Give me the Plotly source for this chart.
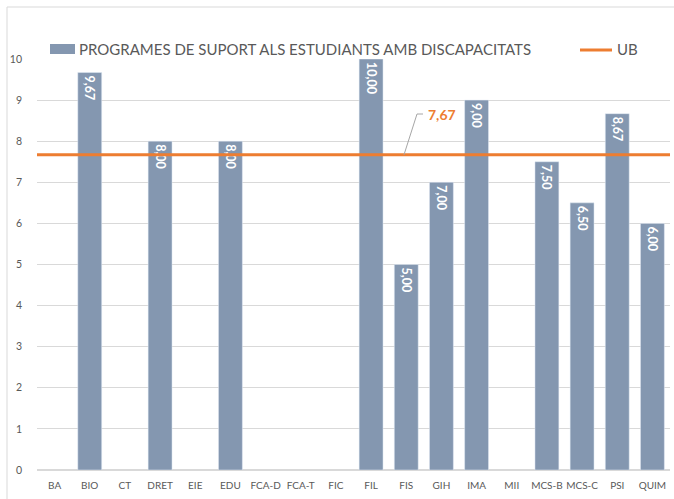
import plotly.graph_objects as go

categories = ["BA", "BIO", "CT", "DRET", "EIE", "EDU", "FCA-D", "FCA-T", "FIC",
              "FIL", "FIS", "GIH", "IMA", "MII", "MCS-B", "MCS-C", "PSI", "QUIM"]
values = [None, 9.67, None, 8.00, None, 8.00, None, None, None,
          10.00, 5.00, 7.00, 9.00, None, 7.50, 6.50, 8.67, 6.00]
ub_value = 7.67
series_name = "PROGRAMES DE SUPORT ALS ESTUDIANTS AMB DISCAPACITATS"
ub_name = "UB"
y_ticks = list(range(0, 11))

BAR = "#8497B0"
ORANGE = "#ED7D31"
GRAY = "#595959"
FONT = "Lato"

W, H = 674, 499
L, R, T, B = 37, 4, 59, 29
pw, ph = W - L - R, H - T - B

def px(x):
    return (x - L) / pw

def py(y):
    return (H - B - y) / ph

fig = go.Figure()
fig.add_trace(go.Bar(
    x=categories, y=values, marker_color=BAR, width=0.68,
    texttemplate="<b>%{y:.2f}</b>", textposition="inside", insidetextanchor="end",
    textangle=90, textfont=dict(color="white", size=12.5, family=FONT),
    showlegend=False, hoverinfo="x+y",
))
fig.add_trace(go.Scatter(
    x=[0, 1], y=[ub_value, ub_value], xaxis="x2", mode="lines",
    line=dict(color=ORANGE, width=3), showlegend=False,
))

shapes = [
    dict(type="rect", xref="paper", yref="paper", x0=px(7), x1=px(700),
         y0=py(7), y1=py(530), line=dict(color="#D9D9D9", width=1), layer="below"),
    dict(type="rect", xref="paper", yref="paper", x0=px(50), x1=px(75),
         y0=py(54), y1=py(44), fillcolor=BAR, line=dict(width=0)),
    dict(type="line", xref="paper", yref="paper", x0=px(580), x1=px(612),
         y0=py(50), y1=py(50), line=dict(color=ORANGE, width=3)),
    dict(type="path", xref="paper", yref="y",
         path=f"M {px(404)},{ub_value} L {px(417)},{(H-B-114)/ph*10} L {px(423)},{(H-B-114)/ph*10}",
         line=dict(color="#A6A6A6", width=1)),
]

annotations = [
    dict(xref="paper", yref="paper", x=px(77), y=py(49), xanchor="left", yanchor="middle",
         text=series_name, showarrow=False, font=dict(size=15, color=GRAY, family=FONT)),
    dict(xref="paper", yref="paper", x=px(615), y=py(49), xanchor="left", yanchor="middle",
         text=ub_name, showarrow=False, font=dict(size=15, color=GRAY, family=FONT)),
    dict(xref="paper", yref="paper", x=px(426), y=py(115), xanchor="left", yanchor="middle",
         text="<b>7,67</b>", showarrow=False, font=dict(size=14, color=ORANGE, family=FONT)),
]

fig.update_layout(
    width=W, height=H,
    margin=dict(l=L, r=R, t=T, b=B, autoexpand=False),
    paper_bgcolor="white", plot_bgcolor="white",
    separators=",.",
    bargap=0.32,
    showlegend=False,
    font=dict(family=FONT, color=GRAY, size=10),
    xaxis=dict(type="category", categoryarray=categories, showgrid=False,
               showline=False, ticks="", tickangle=0, automargin=False,
               tickfont=dict(size=10, color=GRAY), ticklabelstandoff=8),
    xaxis2=dict(overlaying="x", range=[0, 1], visible=False),
    yaxis=dict(range=[0, 10], tickvals=y_ticks, showgrid=True, gridcolor="#D9D9D9",
               gridwidth=1, zeroline=True, zerolinecolor="#D9D9D9", showline=False,
               automargin=False,
               tickfont=dict(size=10.5, color=GRAY), ticklabelstandoff=14),
    shapes=shapes, annotations=annotations,
)

fig.write_html("out.html", config={"displayModeBar": False},
               post_script="document.body.style.margin='0';document.body.style.overflow='hidden';")
